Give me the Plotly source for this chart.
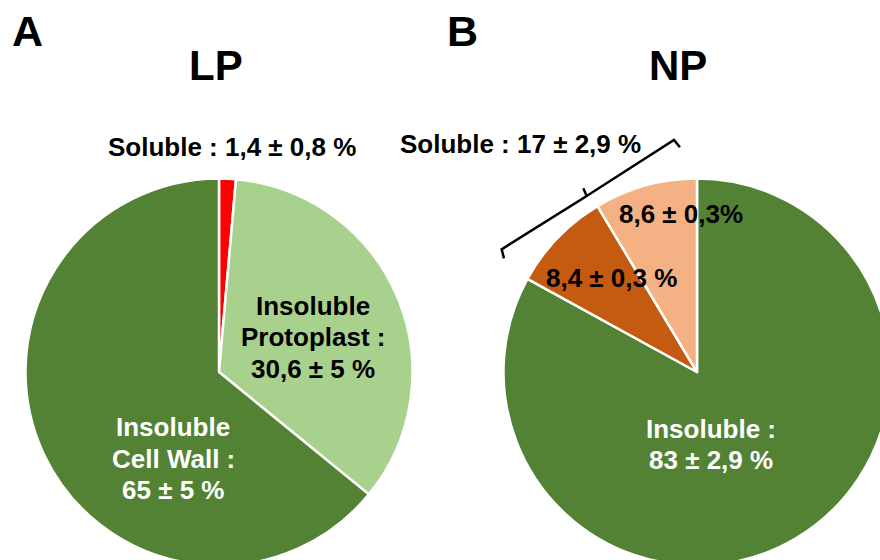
import plotly.graph_objects as go

# the figure runs a little past the window so the pies get cut like the original
W, H = 892, 566

lp_labels = ["Soluble", "Insoluble Protoplast", "Insoluble Cell Wall"]
lp_values = [1.4, 34.5, 64.1]
lp_colors = ["#FF0000", "#A9D18E", "#548235"]

np_labels = ["Insoluble", "Soluble 1", "Soluble 2"]
np_values = [83.0, 8.4, 8.6]
np_colors = ["#548235", "#C55A11", "#F4B183"]

FONT = "Liberation Sans, Arial, sans-serif"


def px(x, y):
    return x / W, 1 - y / H


def pie_domain(cx, cy, r):
    x0, y0 = px(cx - r, cy + r)
    x1, y1 = px(cx + r, cy - r)
    return dict(x=[max(x0, 0), min(x1, 1)], y=[max(y0, 0), min(y1, 1)])


def add_pie(fig, labels, values, colors, domain):
    fig.add_trace(
        go.Pie(
            labels=labels,
            values=values,
            marker=dict(colors=colors, line=dict(color="white", width=2.5)),
            sort=False,
            direction="clockwise",
            rotation=0,
            textinfo="none",
            hoverinfo="label+value",
            showlegend=False,
            domain=domain,
        )
    )


fig = go.Figure()
add_pie(fig, lp_labels, lp_values, lp_colors, pie_domain(219, 372, 193.5))
add_pie(fig, np_labels, np_values, np_colors, pie_domain(697, 372, 193.5))

# (text, x, y, size, color)
texts = [
    ("A", 27.5, 31, 43, "black"),
    ("B", 462.5, 31, 43, "black"),
    ("LP", 216, 66, 42, "black"),
    ("NP", 677.5, 66, 42, "black"),
    ("Soluble : 1,4 ± 0,8 %", 231.5, 147, 26, "black"),
    ("Insoluble", 313, 306, 26, "black"),
    ("Protoplast :", 313, 337, 26, "black"),
    ("30,6 ± 5 %", 313, 369, 26, "black"),
    ("Insoluble", 173, 427, 26, "white"),
    ("Cell Wall :", 173, 459, 26, "white"),
    ("65 ± 5 %", 173, 490, 26, "white"),
    ("Soluble : 17 ± 2,9 %", 520, 144, 26, "black"),
    ("8,6 ± 0,3%", 681, 214, 26, "black"),
    ("8,4 ± 0,3 %", 611, 278, 26, "black"),
    ("Insoluble :", 711, 429, 26, "white"),
    ("83 ± 2,9 %", 711, 460, 26, "white"),
]
for t, x, y, size, color in texts:
    ax, ay = px(x, y)
    fig.add_annotation(
        text="<b>%s</b>" % t,
        x=ax,
        y=ay,
        xref="paper",
        yref="paper",
        xanchor="center",
        yanchor="middle",
        showarrow=False,
        font=dict(family=FONT, size=size, color=color),
    )

# bracket grouping the two soluble slices
pts = [(504, 258.3), (501.7, 249.3), (586.7, 196), (583.3, 188.3), (586.7, 196), (674, 140), (680, 147.3)]
path = "M " + " L ".join("%.4f,%.4f" % px(x, y) for x, y in pts)
fig.add_shape(type="path", path=path, xref="paper", yref="paper",
              line=dict(color="black", width=2.5))

fig.update_layout(
    width=W,
    height=H,
    margin=dict(l=0, r=0, t=0, b=0),
    paper_bgcolor="white",
    plot_bgcolor="white",
    font=dict(family=FONT),
)

# drop the default body margin and scrollbars so the figure sits at the window corner
fig.write_html(
    "out.html",
    config={"displayModeBar": False},
    post_script="document.body.style.margin='0';document.body.style.overflow='hidden';",
)
